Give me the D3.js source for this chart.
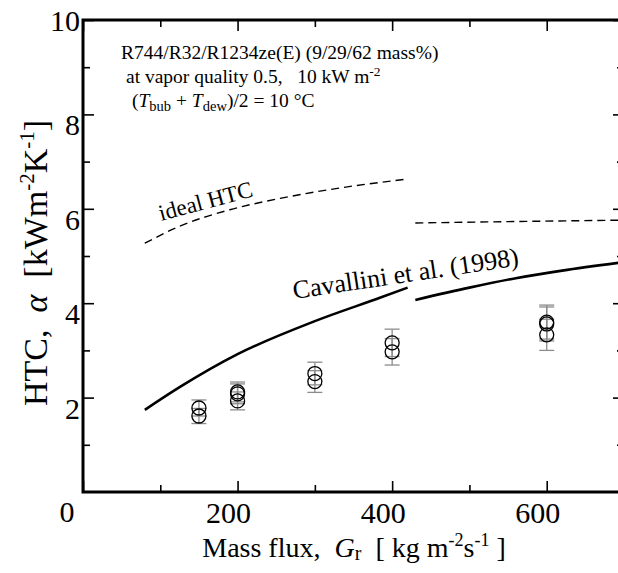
<!DOCTYPE html>
<html><head><meta charset="utf-8">
<script src="https://cdn.jsdelivr.net/npm/d3@7"></script>
<style>
body{margin:0;background:#fff}
svg{display:block}
text{font-family:"Liberation Serif","Times New Roman",serif;fill:#000}
</style>
</head><body>
<svg id="chart" width="618" height="573"></svg>
<script>
// ---- data ----
const massFlux    = [150, 150, 200, 200, 200, 300, 300, 400, 400, 600, 600, 600];
const htcMeasured = [1.78, 1.61, 2.12, 2.08, 1.93, 2.51, 2.34, 3.16, 2.97, 3.60, 3.56, 3.33];
const htcError    = [0.17, 0.16, 0.21, 0.21, 0.19, 0.24, 0.23, 0.29, 0.28, 0.36, 0.36, 0.33];

const idealG1   = [80, 125, 190, 255, 340, 420];
const idealHTC1 = [5.27, 5.63, 5.98, 6.22, 6.46, 6.63];
const idealG2   = [430, 560, 700];
const idealHTC2 = [5.70, 5.73, 5.76];

const cavG1   = [80, 125, 200, 300, 385, 420];
const cavHTC1 = [1.74, 2.22, 2.92, 3.62, 4.12, 4.33];
const cavG2   = [430, 500, 560, 620, 700];
const cavHTC2 = [4.07, 4.33, 4.53, 4.69, 4.87];

const xMajorTicks = [0, 200, 400, 600];
const xMinorTicks = [100, 300, 500, 700];
const xTickLabels = ["200", "400", "600"];
const yMajorTicks = [2, 4, 6, 8, 10];
const yMinorTicks = [1, 3, 5, 7, 9];
const yTickLabels = ["2", "4", "6", "8", "10"];

// ---- layout ----
const svg = d3.select("#chart");
const L = 83, R = 624, T = 20, B = 492;
const x = d3.scaleLinear().domain([0, 700]).range([L, R]);
const y = d3.scaleLinear().domain([0, 10]).range([B, T]);

svg.append("defs").append("clipPath").attr("id", "clip")
  .append("rect").attr("x", L).attr("y", T).attr("width", R - L).attr("height", B - T);

// axes (ticks inward)
function addAxis(gen, tr, ticks, size) {
  const g = svg.append("g").attr("transform", tr)
    .call(gen.tickValues(ticks).tickSize(size).tickFormat(""));
  g.select(".domain").remove();
  g.selectAll(".tick line").attr("stroke", "#000").attr("stroke-width", 1.6);
  return g;
}
addAxis(d3.axisBottom(x), `translate(0,${B})`, xMajorTicks, -11);
addAxis(d3.axisBottom(x), `translate(0,${B})`, xMinorTicks, -7);
addAxis(d3.axisTop(x), `translate(0,${T})`, xMajorTicks, -11);
addAxis(d3.axisTop(x), `translate(0,${T})`, xMinorTicks, -7);
addAxis(d3.axisLeft(y), `translate(${L},0)`, yMajorTicks, -11);
addAxis(d3.axisLeft(y), `translate(${L},0)`, yMinorTicks, -7);
addAxis(d3.axisRight(y), `translate(${R},0)`, yMajorTicks, -11);
addAxis(d3.axisRight(y), `translate(${R},0)`, yMinorTicks, -7);

// frame
svg.append("rect").attr("x", L).attr("y", T).attr("width", R - L).attr("height", B - T)
  .attr("fill", "none").attr("stroke", "#000").attr("stroke-width", 3);

// tick labels
const tickFont = 30;
svg.append("g").selectAll("text").data(xMajorTicks.slice(1)).join("text")
  .attr("x", d => x(d) - 9).attr("y", 523).attr("text-anchor", "middle")
  .attr("font-size", tickFont).text((d, i) => xTickLabels[i]);
svg.append("text").attr("x", 67).attr("y", 522).attr("text-anchor", "middle")
  .attr("font-size", tickFont).text("0");
svg.append("g").selectAll("text").data(yMajorTicks).join("text")
  .attr("x", 80).attr("y", d => y(d) + (d === 10 ? 11 : 21)).attr("text-anchor", "end")
  .attr("font-size", tickFont).text((d, i) => yTickLabels[i]);

// axis titles
const xt = svg.append("text").attr("x", 354).attr("y", 557).attr("text-anchor", "middle").attr("font-size", 28);
xt.append("tspan").text("Mass flux,\u00a0\u00a0");
xt.append("tspan").attr("font-style", "italic").text("G");
xt.append("tspan").attr("font-size", 20).attr("dy", 3).text("r");
xt.append("tspan").attr("dy", -3).text("\u00a0\u00a0[ kg m");
xt.append("tspan").attr("font-size", 18).attr("dy", -11).text("-2");
xt.append("tspan").attr("dy", 11).text("s");
xt.append("tspan").attr("font-size", 18).attr("dy", -11).text("-1");
xt.append("tspan").attr("dy", 11).text(" ]");

const yt = svg.append("text").attr("transform", "translate(47,263) rotate(-90)")
  .attr("text-anchor", "middle").attr("font-size", 34);
yt.append("tspan").text("HTC,\u00a0\u00a0");
yt.append("tspan").attr("font-style", "italic").text("α");
yt.append("tspan").text("\u00a0\u00a0[kWm");
yt.append("tspan").attr("font-size", 21).attr("dy", -13).text("-2");
yt.append("tspan").attr("dy", 13).text("K");
yt.append("tspan").attr("font-size", 21).attr("dy", -13).text("-1");
yt.append("tspan").attr("dy", 13).text("]");

// annotation
const af = 19.5;
svg.append("text").attr("x", 121).attr("y", 59).attr("font-size", af)
  .text("R744/R32/R1234ze(E) (9/29/62 mass%)");
const a2 = svg.append("text").attr("x", 126).attr("y", 83).attr("font-size", af);
a2.append("tspan").text("at vapor quality 0.5,\u00a0\u00a0\u00a010 kW m");
a2.append("tspan").attr("font-size", 13.5).attr("dy", -7).text("-2");
const a3 = svg.append("text").attr("x", 132).attr("y", 107).attr("font-size", af);
a3.append("tspan").text("(");
a3.append("tspan").attr("font-style", "italic").text("T");
a3.append("tspan").attr("font-size", 14.5).attr("dy", 4).text("bub");
a3.append("tspan").attr("dy", -4).text(" + ");
a3.append("tspan").attr("font-style", "italic").text("T");
a3.append("tspan").attr("font-size", 14.5).attr("dy", 4).text("dew");
a3.append("tspan").attr("dy", -4).text(")/2 = 10 °C");

// curves
const plot = svg.append("g").attr("clip-path", "url(#clip)");
const line = d3.line().x(d => x(d[0])).y(d => y(d[1])).curve(d3.curveMonotoneX);
const zip = (a, b) => a.map((v, i) => [v, b[i]]);
[[idealG1, idealHTC1], [idealG2, idealHTC2]].forEach(([g, h]) => {
  plot.append("path").attr("d", line(zip(g, h))).attr("fill", "none")
    .attr("stroke", "#000").attr("stroke-width", 1.4).attr("stroke-dasharray", "8,5");
});
[[cavG1, cavHTC1], [cavG2, cavHTC2]].forEach(([g, h]) => {
  plot.append("path").attr("d", line(zip(g, h))).attr("fill", "none")
    .attr("stroke", "#000").attr("stroke-width", 2.6);
});

// curve labels
svg.append("text").attr("transform", `translate(161,221) rotate(-15)`).attr("font-size", 23).text("ideal HTC");
svg.append("text").attr("transform", `translate(294,299) rotate(-8.5)`).attr("font-size", 26).text("Cavallini et al. (1998)");

// error bars + points
const pts = massFlux.map((g, i) => ({g, h: htcMeasured[i], e: htcError[i]}));
const eb = plot.append("g").attr("stroke", "#8c8c8c").attr("stroke-width", 1.3);
pts.forEach(p => {
  eb.append("line").attr("x1", x(p.g)).attr("x2", x(p.g)).attr("y1", y(p.h - p.e)).attr("y2", y(p.h + p.e));
  [p.h - p.e, p.h + p.e].forEach(v => eb.append("line")
    .attr("x1", x(p.g) - 7.5).attr("x2", x(p.g) + 7.5).attr("y1", y(v)).attr("y2", y(v)));
});
plot.append("g").selectAll("circle").data(pts).join("circle")
  .attr("cx", d => x(d.g)).attr("cy", d => y(d.h)).attr("r", 7)
  .attr("fill", "none").attr("stroke", "#000").attr("stroke-width", 1.3);
</script>
</body></html>
